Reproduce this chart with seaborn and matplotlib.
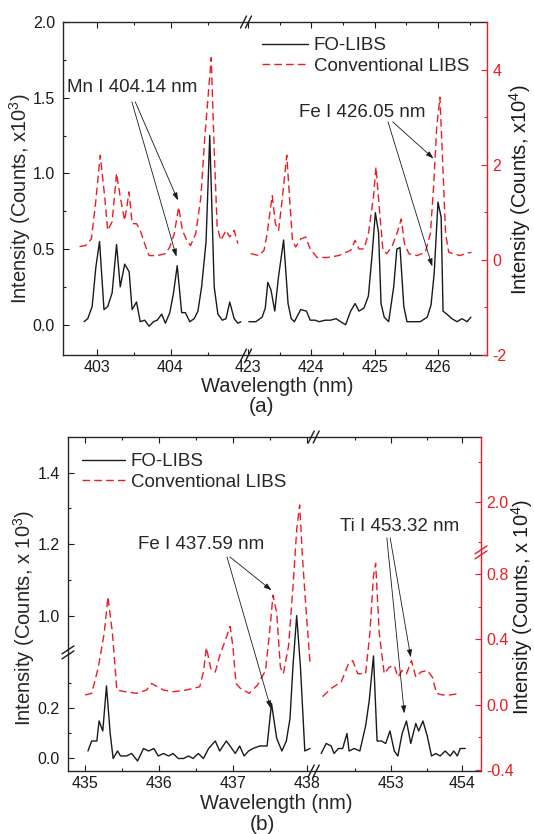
import numpy as np
import matplotlib
matplotlib.use("Agg")
import matplotlib.pyplot as plt
from matplotlib.lines import Line2D
import seaborn as sns

RED = "#ec1c24"

# === Data: panel (a) ===
a_fo_wl1 = [402.83, 402.88, 402.94, 402.99, 403.04, 403.10, 403.15, 403.21, 403.27, 403.32,
            403.38, 403.44, 403.48, 403.54, 403.59, 403.65, 403.71, 403.77, 403.82, 403.88,
            403.93, 403.99, 404.04, 404.09, 404.15, 404.20, 404.26, 404.32, 404.37, 404.42,
            404.48, 404.53, 404.59, 404.64, 404.70, 404.75, 404.80, 404.86, 404.91, 404.95]
a_fo_1 = [0.02, 0.04, 0.12, 0.38, 0.55, 0.10, 0.12, 0.21, 0.53, 0.25,
          0.40, 0.35, 0.10, 0.15, 0.02, 0.03, -0.01, 0.02, 0.03, 0.07,
          0.01, 0.08, 0.21, 0.39, 0.08, 0.08, 0.02, 0.04, 0.09, 0.25,
          0.55, 1.25, 0.25, 0.07, 0.03, 0.04, 0.15, 0.04, 0.01, 0.02]
a_fo_wl2 = [423.01, 423.12, 423.22, 423.27, 423.31, 423.36, 423.42, 423.48, 423.56, 423.63,
            423.68, 423.73, 423.83, 423.92, 423.98, 424.06, 424.12, 424.22, 424.30, 424.39,
            424.46, 424.54, 424.62, 424.69, 424.75, 424.83, 424.90, 424.96, 425.01, 425.06,
            425.10, 425.15, 425.22, 425.30, 425.35, 425.40, 425.46, 425.51, 425.61, 425.72,
            425.83, 425.89, 425.94, 426.00, 426.05, 426.08, 426.14, 426.22, 426.30, 426.38,
            426.46, 426.52]
a_fo_2 = [0.02, 0.02, 0.05, 0.11, 0.28, 0.23, 0.09, 0.32, 0.56, 0.14,
          0.04, 0.02, 0.10, 0.09, 0.03, 0.03, 0.02, 0.03, 0.03, 0.04,
          0.02, 0.00, 0.09, 0.14, 0.09, 0.11, 0.19, 0.47, 0.74, 0.61,
          0.14, 0.05, 0.02, 0.25, 0.50, 0.51, 0.12, 0.02, 0.02, 0.02,
          0.05, 0.13, 0.34, 0.81, 0.71, 0.09, 0.07, 0.04, 0.02, 0.04,
          0.02, 0.05]
a_cv_wl1 = [402.77, 402.85, 402.93, 402.99, 403.05, 403.11, 403.15, 403.21, 403.27, 403.32,
            403.38, 403.44, 403.48, 403.54, 403.59, 403.65, 403.71, 403.82, 403.93, 403.99,
            404.05, 404.11, 404.16, 404.22, 404.27, 404.34, 404.41, 404.46, 404.55, 404.59,
            404.63, 404.68, 404.75, 404.80, 404.86, 404.91]
a_cv_1 = [0.28, 0.30, 0.44, 1.25, 2.20, 1.32, 0.62, 0.80, 1.82, 1.32,
          0.83, 1.43, 0.76, 0.76, 0.62, 0.34, 0.09, 0.09, 0.13, 0.27,
          0.55, 1.11, 0.62, 0.41, 0.30, 0.55, 1.32, 2.52, 4.25, 2.31,
          0.69, 0.41, 0.62, 0.48, 0.62, 0.34]
a_cv_wl2 = [423.04, 423.17, 423.25, 423.30, 423.34, 423.38, 423.43, 423.48, 423.53, 423.61,
            423.66, 423.70, 423.75, 423.83, 423.91, 423.98, 424.09, 424.25, 424.43, 424.62,
            424.69, 424.75, 424.83, 424.90, 424.98, 425.02, 425.08, 425.13, 425.19, 425.27,
            425.35, 425.42, 425.47, 425.54, 425.67, 425.80, 425.88, 425.93, 425.98, 426.03,
            426.06, 426.12, 426.17, 426.24, 426.35, 426.45, 426.53]
a_cv_2 = [0.13, 0.09, 0.20, 0.55, 0.97, 1.35, 0.76, 0.62, 1.18, 2.20,
          1.18, 0.41, 0.27, 0.44, 0.48, 0.23, 0.05, 0.05, 0.09, 0.20,
          0.41, 0.23, 0.23, 0.55, 1.32, 1.95, 0.97, 0.20, 0.13, 0.27,
          0.55, 0.86, 0.34, 0.13, 0.09, 0.16, 0.55, 1.53, 2.79, 3.42,
          2.51, 0.55, 0.16, 0.13, 0.09, 0.14, 0.16]

# === Data: panel (b) ===
b_fo_wl1 = [435.04, 435.09, 435.16, 435.19, 435.24, 435.29, 435.34, 435.38, 435.44, 435.48,
            435.56, 435.63, 435.71, 435.79, 435.86, 435.93, 435.99, 436.06, 436.13, 436.19,
            436.26, 436.33, 436.40, 436.46, 436.53, 436.60, 436.67, 436.76, 436.82, 436.91,
            436.96, 437.03, 437.09, 437.15, 437.21, 437.27, 437.36, 437.46, 437.52, 437.59,
            437.66, 437.72, 437.77, 437.81, 437.86, 437.91, 437.97, 438.04]
b_fo_1 = [0.03, 0.07, 0.07, 0.15, 0.11, 0.29, 0.10, 0.00, 0.03, 0.01,
          0.01, 0.02, -0.01, 0.04, 0.03, 0.04, 0.01, 0.02, 0.01, 0.02,
          0.00, 0.00, 0.01, 0.00, 0.02, 0.00, 0.04, 0.07, 0.03, 0.07,
          0.05, 0.02, 0.05, 0.01, 0.03, 0.04, 0.05, 0.05, 0.22, 0.08,
          0.03, 0.07, 0.16, 0.37, 1.00, 0.37, 0.03, 0.04]
b_fo_wl2 = [452.03, 452.10, 452.17, 452.21, 452.27, 452.33, 452.39, 452.42, 452.49, 452.57,
            452.65, 452.70, 452.76, 452.81, 452.87, 452.93, 452.99, 453.05, 453.10, 453.16,
            453.22, 453.28, 453.35, 453.39, 453.45, 453.51, 453.57, 453.63, 453.69, 453.76,
            453.83, 453.88, 453.93, 453.97, 454.04]
b_fo_2 = [0.02, 0.06, 0.05, 0.02, 0.04, 0.04, 0.10, 0.03, 0.04, 0.03,
          0.13, 0.23, 0.41, 0.07, 0.07, 0.06, 0.11, 0.03, 0.01, 0.10,
          0.15, 0.06, 0.14, 0.11, 0.15, 0.09, 0.01, 0.02, 0.01, 0.03,
          0.01, 0.03, 0.01, 0.04, 0.04]
b_cv_wl1 = [435.00, 435.09, 435.18, 435.26, 435.31, 435.37, 435.43, 435.54, 435.70, 435.83,
            435.90, 436.06, 436.19, 436.37, 436.55, 436.60, 436.64, 436.70, 436.76, 436.82,
            436.90, 436.96, 437.00, 437.04, 437.10, 437.22, 437.33, 437.44, 437.51, 437.54,
            437.59, 437.64, 437.68, 437.75, 437.81, 437.86, 437.90, 437.94, 437.99, 438.04]
b_cv_1 = [0.06, 0.07, 0.23, 0.44, 0.66, 0.44, 0.09, 0.08, 0.07, 0.09,
          0.13, 0.09, 0.08, 0.09, 0.11, 0.20, 0.35, 0.22, 0.20, 0.30,
          0.40, 0.48, 0.35, 0.13, 0.10, 0.07, 0.12, 0.21, 0.52, 0.67,
          0.56, 0.23, 0.19, 0.36, 0.72, 1.86, 1.985, 0.89, 0.56, 0.26]
b_cv_wl2 = [452.05, 452.17, 452.31, 452.41, 452.47, 452.54, 452.65, 452.71, 452.76, 452.79,
            452.84, 452.91, 452.98, 453.05, 453.10, 453.16, 453.22, 453.29, 453.35, 453.42,
            453.51, 453.58, 453.64, 453.72, 453.83, 453.97]
b_cv_2 = [0.05, 0.10, 0.14, 0.25, 0.27, 0.19, 0.19, 0.44, 0.79, 0.865,
          0.44, 0.19, 0.23, 0.24, 0.17, 0.21, 0.19, 0.27, 0.17, 0.20,
          0.21, 0.17, 0.07, 0.06, 0.06, 0.07]

# === Broken-axis layout (value -> pixel knots) ===
A_XKNOTS, A_XPOS = [402.55, 405.02, 422.97, 426.77], [63.3, 246.0, 246.3, 486.7]
B_XKNOTS, B_XPOS = [434.77, 438.09, 451.93, 454.26], [68.0, 313.7, 314.0, 481.0]
B_YKNOTS, B_YPOS = [-0.05, 0.42, 0.90, 1.50], [-770.8, -653.3, -651.2, -437.0]
B_RKNOTS, B_RPOS = [-0.405, 0.93, 1.75, 2.325], [-771.0, -552.7, -552.0, -437.0]

sns.set_theme(style="ticks")
plt.rcParams["font.family"] = ["Liberation Sans", "DejaVu Sans"]
plt.rcParams["mathtext.fontset"] = "custom"
plt.rcParams["mathtext.rm"] = "Liberation Sans"
plt.rcParams["mathtext.it"] = "Liberation Sans:italic"
plt.rcParams["axes.linewidth"] = 1.0


def piecewise(knots, pos):
    """Piecewise-linear forward/inverse pair for a broken axis."""
    k = np.asarray(knots, float)
    p = np.asarray(pos, float)

    def _map(v, a, b):
        v = np.asarray(v, float)
        out = np.interp(v, a, b)
        s0 = (b[1] - b[0]) / (a[1] - a[0])
        s1 = (b[-1] - b[-2]) / (a[-1] - a[-2])
        out = np.where(v < a[0], b[0] + (v - a[0]) * s0, out)
        out = np.where(v > a[-1], b[-1] + (v - a[-1]) * s1, out)
        return out

    return (lambda v: _map(v, k, p)), (lambda v: _map(v, p, k))


def draw_panel(ax, fo_segments, cv_segments):
    twin = ax.twinx()
    for wl, val in fo_segments:
        sns.lineplot(x=wl, y=val, ax=ax, color="k", lw=1.0, estimator=None, sort=False)
    for wl, val in cv_segments:
        sns.lineplot(x=wl, y=val, ax=twin, color=RED, lw=1.0,
                     linestyle=(0, (5.5, 3)), estimator=None, sort=False)
    return twin


def style_axes(ax, twin):
    ax.tick_params(which="both", direction="in", top=True, right=False,
                   labelsize=11.5, width=0.8, colors="k")
    ax.tick_params(which="major", length=4.5)
    ax.tick_params(which="minor", length=2.5)
    ax.tick_params(axis="y", pad=6)
    ax.tick_params(axis="x", pad=3.5)
    twin.tick_params(axis="y", which="both", direction="in", colors=RED,
                     labelsize=11.5, width=0.8, pad=4)
    twin.tick_params(axis="y", which="major", length=4.5)
    twin.tick_params(axis="y", which="minor", length=2.5)
    ax.spines["right"].set_visible(False)
    for s in ["left", "top", "bottom"]:
        twin.spines[s].set_visible(False)
    twin.spines["right"].set_color(RED)
    twin.spines["right"].set_linewidth(1.0)


def slashes(fig, ax, fx, fy, on_yaxis, color="k"):
    """Draw a '//' break mark on a spine (offsets in pixels)."""
    x0, y0 = ax.transAxes.transform((fx, fy))
    inv = fig.transFigure.inverted()
    for off in (-2.5, 2.5):
        if on_yaxis:
            pts = [(x0 - 6, y0 - 4 + off), (x0 + 6, y0 + 4 + off)]
        else:
            pts = [(x0 - 3 + off, y0 - 6), (x0 + 3 + off, y0 + 6)]
        (xa, ya), (xb, yb) = inv.transform(pts)
        fig.add_artist(Line2D([xa, xb], [ya, yb], transform=fig.transFigure,
                              color=color, lw=1.0))


def to_frac(ax, x=None, y=None):
    x0, _ = ax.get_xlim()
    y0, _ = ax.get_ylim()
    pt = ax.transData.transform((x0 if x is None else x, y0 if y is None else y))
    return ax.transAxes.inverted().transform(pt)


ARROW = dict(arrowstyle="-|>,head_length=0.45,head_width=0.15", color="k",
             lw=0.6, shrinkA=0, shrinkB=0, mutation_scale=10)


def mark_line(ax, twin, text, text_xy, tails, black_xy, red_xy):
    twin.text(text_xy[0], text_xy[1], text, transform=ax.transAxes,
              ha="left", va="center", fontsize=13.5)
    twin.annotate("", xy=black_xy, xycoords=ax.transData, xytext=tails[0],
                  textcoords="axes fraction", arrowprops=ARROW)
    twin.annotate("", xy=red_xy, xycoords=twin.transData, xytext=tails[1],
                  textcoords="axes fraction", arrowprops=ARROW)


fig = plt.figure(figsize=(5.34, 8.34), dpi=100)
ax_a = fig.add_axes([63.3 / 534, 1 - 355 / 834, 423.4 / 534, 333 / 834])
ax_b = fig.add_axes([68 / 534, 1 - 771 / 834, 413 / 534, 334 / 834])

# === Panel (a) ===
tw_a = draw_panel(ax_a, [(a_fo_wl1, a_fo_1), (a_fo_wl2, a_fo_2)],
                  [(a_cv_wl1, a_cv_1), (a_cv_wl2, a_cv_2)])
ax_a.set_xscale("function", functions=piecewise(A_XKNOTS, A_XPOS))
ax_a.set_xlim(A_XKNOTS[0], A_XKNOTS[-1])
ax_a.set_ylim(-0.2, 2.0)
tw_a.set_ylim(-2, 5)
ax_a.set_xticks([403, 404, 423, 424, 425, 426],
                labels=["403", "404", "423", "424", "425", "426"])
ax_a.set_xticks([403.5, 404.5, 423.5, 424.5, 425.5, 426.5], minor=True)
ax_a.set_yticks([0, 0.5, 1.0, 1.5, 2.0], labels=["0.0", "0.5", "1.0", "1.5", "2.0"])
ax_a.set_yticks([0.25, 0.75, 1.25, 1.75], minor=True)
tw_a.set_yticks([-2, 0, 2, 4], labels=["-2", "0", "2", "4"])
tw_a.set_yticks([-1, 1, 3], minor=True)
style_axes(ax_a, tw_a)

ax_a.set_xlabel("Wavelength (nm)", fontsize=14.5)
ax_a.xaxis.set_label_coords(0.505, -0.094)
ax_a.xaxis.label.set_verticalalignment("center")
ax_a.set_ylabel("Intensity (Counts, x10$^3$)", fontsize=14.5)
ax_a.yaxis.set_label_coords(-0.102, 0.468)
ax_a.yaxis.label.set_verticalalignment("center")
tw_a.set_ylabel("Intensity (Counts, x10$^4$)", fontsize=14.5, color="k")
tw_a.yaxis.set_label_coords(1.078, 0.497)
tw_a.yaxis.label.set_verticalalignment("center")

tw_a.legend([ax_a.lines[0], tw_a.lines[0]], ["FO-LIBS", "Conventional LIBS"],
            loc="upper left", bbox_to_anchor=(0.47, 0.955), frameon=False,
            fontsize=13.5, handlelength=2.45, handletextpad=0.3,
            labelspacing=0.2, borderpad=0, borderaxespad=0)

mark_line(ax_a, tw_a, "Mn I 404.14 nm", (0.008, 0.802),
          [(0.162, 0.760), (0.170, 0.760)], (404.08, 0.45), (404.10, 1.25))
mark_line(ax_a, tw_a, "Fe I 426.05 nm", (0.557, 0.727),
          [(0.767, 0.700), (0.778, 0.700)], (425.91, 0.385), (425.93, 2.13))

# === Panel (b) ===
tw_b = draw_panel(ax_b, [(b_fo_wl1, b_fo_1), (b_fo_wl2, b_fo_2)],
                  [(b_cv_wl1, b_cv_1), (b_cv_wl2, b_cv_2)])
ax_b.set_xscale("function", functions=piecewise(B_XKNOTS, B_XPOS))
ax_b.set_yscale("function", functions=piecewise(B_YKNOTS, B_YPOS))
tw_b.set_yscale("function", functions=piecewise(B_RKNOTS, B_RPOS))
ax_b.set_xlim(B_XKNOTS[0], B_XKNOTS[-1])
ax_b.set_ylim(B_YKNOTS[0], B_YKNOTS[-1])
tw_b.set_ylim(B_RKNOTS[0], B_RKNOTS[-1])
ax_b.set_xticks([435, 436, 437, 438, 453, 454],
                labels=["435", "436", "437", "438", "453", "454"])
ax_b.set_xticks([435.5, 436.5, 437.5, 452.5, 453.5], minor=True)
ax_b.set_yticks([0, 0.2, 1.0, 1.2, 1.4], labels=["0.0", "0.2", "1.0", "1.2", "1.4"])
ax_b.set_yticks([0.1, 0.3, 1.1, 1.3], minor=True)
tw_b.set_yticks([-0.4, 0.0, 0.4, 0.8, 2.0], labels=["-0.4", "0.0", "0.4", "0.8", "2.0"])
tw_b.set_yticks([-0.2, 0.2, 0.6, 1.8, 2.2], minor=True)
style_axes(ax_b, tw_b)

ax_b.set_xlabel("Wavelength (nm)", fontsize=14.5)
ax_b.xaxis.set_label_coords(0.504, -0.097)
ax_b.xaxis.label.set_verticalalignment("center")
ax_b.set_ylabel("Intensity (Counts, x 10$^3$)", fontsize=14.5)
ax_b.yaxis.set_label_coords(-0.106, 0.458)
ax_b.yaxis.label.set_verticalalignment("center")
tw_b.set_ylabel("Intensity (Counts, x 10$^4$)", fontsize=14.5, color="k")
tw_b.yaxis.set_label_coords(1.099, 0.491)
tw_b.yaxis.label.set_verticalalignment("center")

tw_b.legend([ax_b.lines[0], tw_b.lines[0]], ["FO-LIBS", "Conventional LIBS"],
            loc="upper left", bbox_to_anchor=(0.034, 0.952), frameon=False,
            fontsize=13.5, handlelength=2.3, handletextpad=0.3,
            labelspacing=0.2, borderpad=0, borderaxespad=0)

mark_line(ax_b, tw_b, "Fe I 437.59 nm", (0.169, 0.677),
          [(0.385, 0.641), (0.392, 0.641)], (437.51, 0.20), (437.52, 0.70))
mark_line(ax_b, tw_b, "Ti I 453.32 nm", (0.659, 0.731),
          [(0.772, 0.698), (0.780, 0.698)], (453.19, 0.18), (453.28, 0.29))

# === Break marks ===
fx_a = to_frac(ax_a, x=A_XKNOTS[1])[0]
slashes(fig, ax_a, fx_a, 0.0, False)
slashes(fig, ax_a, fx_a, 1.0, False)
fx_b = to_frac(ax_b, x=B_XKNOTS[1])[0]
slashes(fig, ax_b, fx_b, 0.0, False)
slashes(fig, ax_b, fx_b, 1.0, False)
fy_b = to_frac(ax_b, y=(B_YKNOTS[1] + B_YKNOTS[2]) / 2)[1]
slashes(fig, ax_b, 0.0, fy_b, True)
fy_r = to_frac(tw_b, y=(B_RKNOTS[1] + B_RKNOTS[2]) / 2)[1]
slashes(fig, ax_b, 1.0, fy_r, True, color=RED)

fig.text(262 / 534, 1 - 406 / 834, "(a)", ha="center", va="center", fontsize=15)
fig.text(262 / 534, 1 - 825 / 834, "(b)", ha="center", va="center", fontsize=15)

fig.savefig("out.png", dpi=100)
